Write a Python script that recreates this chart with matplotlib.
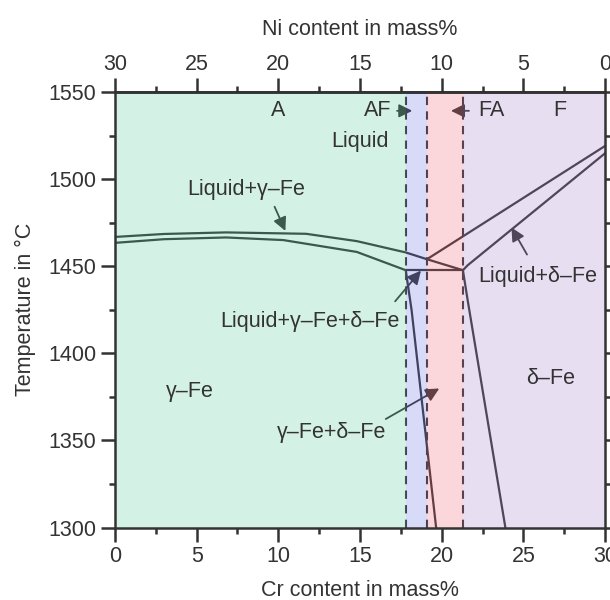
import numpy as np
import matplotlib.pyplot as plt

plt.rcParams['font.family'] = ['Liberation Sans', 'DejaVu Sans']

#%% data (Cr in mass%, T in degC)

# liquidus of gamma-Fe
liq_g_cr = [0, 3, 6.8, 11.7, 14.8, 17.8, 19.1]
liq_g_t = [1466.8, 1468.5, 1469.4, 1468.6, 1464.4, 1457.9, 1454]

# solidus of gamma-Fe
sol_g_cr = [0, 3, 6.8, 10.3, 14.8, 17.8]
sol_g_t = [1463.4, 1465.5, 1466.5, 1465, 1458.2, 1447.7]

# three phase line
tri_cr = [17.8, 21.3]
tri_t = [1447.7, 1447.7]

# liquidus of delta-Fe
liq_d_cr = [19.1, 30]
liq_d_t = [1454, 1519]

# junction to right corner
jr_cr = [19.1, 21.3]
jr_t = [1454, 1447.7]

# solidus of delta-Fe
sol_d_cr = [21.3, 21.6, 30]
sol_d_t = [1447.7, 1450.6, 1514.8]

# solvus lines
solv_g_cr = [17.8, 18.16, 19.66]
solv_g_t = [1447.7, 1424.7, 1300]
solv_d_cr = [21.3, 21.6, 23.9]
solv_d_t = [1447.7, 1430, 1300]

# solidification mode borders
borders = [17.8, 19.1, 21.3]
regions = [(0, 17.8, '#57cb9b'), (17.8, 19.1, '#6373e3'),
           (19.1, 21.3, '#f36373'), (21.3, 30, '#a77fcb')]

#%% plot

fs = 15.5
fig = plt.figure(figsize=(6.1, 6.0), dpi=100)
ax = fig.add_axes([115/610, 1-527.5/600, 490/610, 435.5/600])

line_col = '#333333'
for cx, ty in [(liq_g_cr, liq_g_t), (sol_g_cr, sol_g_t), (tri_cr, tri_t),
               (liq_d_cr, liq_d_t), (jr_cr, jr_t), (sol_d_cr, sol_d_t),
               (solv_g_cr, solv_g_t), (solv_d_cr, solv_d_t)]:
    ax.plot(cx, ty, color=line_col, lw=1.6, zorder=2)

for b in borders:
    ax.axvline(b, color=line_col, lw=1.5, ls=(0, (4, 3)), zorder=2)

# pointer arrows (under the colour overlay so they get tinted)
arr = dict(arrowstyle='-|>', color=line_col, lw=1.3, mutation_scale=20)
pointers = [((9.7, 1485.6), (10.5, 1468.8)),
            ((25.31, 1455.3), (24.19, 1473.6)),
            ((17.04, 1428.6), (18.84, 1448.7)),
            ((16.43, 1361.5), (20.0, 1380.6)),
            ((17.1, 1539.2), (18.37, 1539.2)),
            ((21.84, 1539.2), (20.4, 1539.2))]
for start, tip in pointers:
    ax.annotate('', xy=tip, xytext=start, arrowprops=arr, zorder=2)

for x0, x1, c in regions:
    ax.axvspan(x0, x1, color=c, alpha=0.25, lw=0, zorder=3)

txt = dict(fontsize=fs, color='#333333', ha='center', va='center', zorder=5)
ax.text(10.0, 1539.2, 'A', **txt)
ax.text(16.1, 1539.2, 'AF', **txt)
ax.text(23.06, 1539.2, 'FA', **txt)
ax.text(27.25, 1539.2, 'F', **txt)
ax.text(15.0, 1521.8, 'Liquid', **txt)
ax.text(8.06, 1494, 'Liquid+γ–Fe', **txt)
ax.text(25.86, 1443.9, 'Liquid+δ–Fe', **txt)
ax.text(11.94, 1418, 'Liquid+γ–Fe+δ–Fe', **txt)
ax.text(13.27, 1354.8, 'γ–Fe+δ–Fe', **txt)
ax.text(4.6, 1377.8, 'γ–Fe', **txt)
ax.text(26.7, 1385.5, 'δ–Fe', **txt)

ax.set_xlim(0, 30)
ax.set_ylim(1300, 1550)
ax.set_xticks(np.arange(0, 31, 5))
ax.set_xticks(np.arange(0, 31, 2.5), minor=True)
ax.set_yticks(np.arange(1300, 1551, 50))
ax.set_yticks(np.arange(1300, 1551, 25), minor=True)
ax.tick_params(which='both', direction='out', width=1.8, color='#333333',
               labelsize=fs, labelcolor='#333333', right=True)
ax.tick_params(which='major', length=10)
ax.tick_params(which='minor', length=4.5)
ax.set_xlabel('Cr content in mass%', fontsize=fs, color='#333333', labelpad=9)
ax.set_ylabel('Temperature in °C', fontsize=fs, color='#333333', labelpad=9)

for s in ax.spines.values():
    s.set_linewidth(1.8)
    s.set_color('#333333')
    s.set_zorder(10)

# Ni axis on top: Ni = 30 - Cr
top = ax.secondary_xaxis('top', functions=(lambda c: 30 - c, lambda n: 30 - n))
top.set_xticks(np.arange(0, 31, 5))
top.set_xticks(np.arange(0, 31, 2.5), minor=True)
top.tick_params(which='both', direction='out', width=1.8, color='#333333',
                labelsize=fs, labelcolor='#333333', pad=2)
top.tick_params(which='major', length=10)
top.tick_params(which='minor', length=4.5)
top.set_xlabel('Ni content in mass%', fontsize=fs, color='#333333', labelpad=14)
top.spines['top'].set_linewidth(1.8)

fig.savefig('out.png', dpi=100)
